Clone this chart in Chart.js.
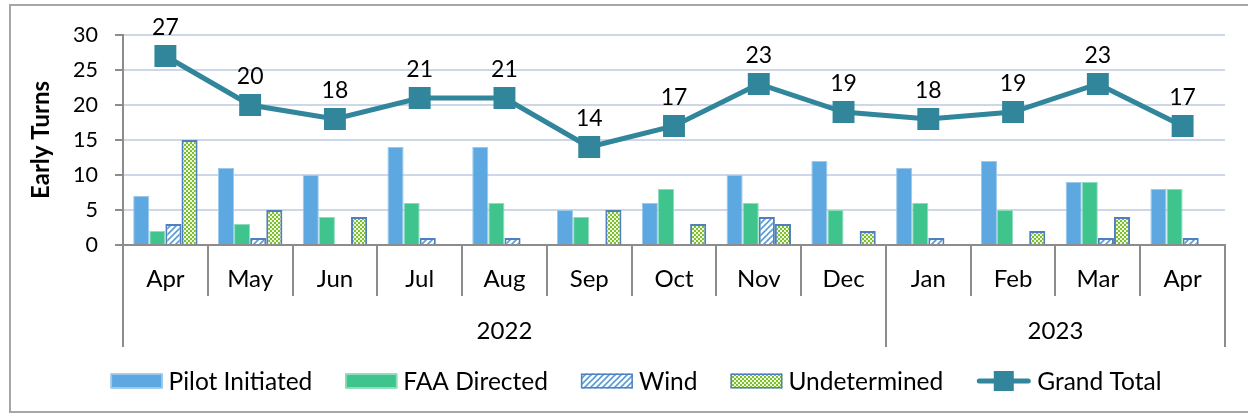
<!DOCTYPE html>
<html><head><meta charset="utf-8">
<script src="https://cdn.jsdelivr.net/npm/chart.js@4/dist/chart.umd.min.js"></script>
<style>html,body{margin:0;padding:0;background:#fff;overflow:hidden}#wrap{width:1248px;height:417px;position:relative}</style>
</head><body><div id="wrap"><canvas id="c" width="1248" height="417"></canvas></div>
<script>
const months = ['Apr','May','Jun','Jul','Aug','Sep','Oct','Nov','Dec','Jan','Feb','Mar','Apr'];
const years = ['2022','2023'];
const yearSpans = [9,4];
const pilotInitiated = [7,11,10,14,14,5,6,10,12,11,12,9,8];
const faaDirected = [2,3,4,6,6,4,8,6,5,6,5,9,8];
const wind = [3,1,0,1,1,0,0,4,0,1,0,1,1];
const undetermined = [15,5,4,0,0,5,3,3,2,0,2,4,0];
const grandTotal = [27,20,18,21,21,14,17,23,19,18,19,23,17];
const yTicks = [0,5,10,15,20,25,30];

const FONT = 'Lato, "Open Sans", sans-serif';
const FS_Y = 21.5, FS_X = 24, FS_LEG = 24.5, FS_LBL = 23;
const C_PILOT = '#5da8e0', C_FAA = '#40c48e', C_LINE = '#31869b', C_PAT_BORDER = '#4f7fbf';
const AXIS = '#8c8c8c';

function windPattern(){
  const s = 6, cv = document.createElement('canvas'); cv.width = s; cv.height = s;
  const g = cv.getContext('2d');
  g.fillStyle = '#fff'; g.fillRect(0,0,s,s);
  g.strokeStyle = '#5b9bd5'; g.lineWidth = 1.6;
  g.beginPath(); g.moveTo(0,s); g.lineTo(s,0); g.moveTo(-s/2,s/2); g.lineTo(s/2,-s/2); g.moveTo(s/2,s*1.5); g.lineTo(s*1.5,s/2); g.stroke();
  return g.createPattern(cv,'repeat');
}
function checkPattern(){
  const s = 4, cv = document.createElement('canvas'); cv.width = s; cv.height = s;
  const g = cv.getContext('2d');
  g.fillStyle = '#eef7e0'; g.fillRect(0,0,s,s);
  g.fillStyle = '#7fbf2e'; g.fillRect(0,0,2,2); g.fillRect(2,2,2,2);
  return g.createPattern(cv,'repeat');
}
const P_WIND = windPattern(), P_UND = checkPattern();

const legendItems = [
  {label:'Pilot Initiated', kind:'box', fill:C_PILOT, stroke:'#9cc8ea'},
  {label:'FAA Directed', kind:'box', fill:C_FAA, stroke:'#8fdcbd'},
  {label:'Wind', kind:'box', fill:P_WIND, stroke:C_PAT_BORDER},
  {label:'Undetermined', kind:'box', fill:P_UND, stroke:C_PAT_BORDER},
  {label:'Grand Total', kind:'line'}
];

const extras = {
  id:'extras',
  afterDatasetsDraw(chart){
    const ctx = chart.ctx, meta = chart.getDatasetMeta(4);
    ctx.save();
    ctx.font = FS_LBL + 'px ' + FONT; ctx.fillStyle = '#000'; ctx.textAlign = 'center'; ctx.textBaseline = 'middle';
    meta.data.forEach((p,i)=>{ ctx.fillText(String(grandTotal[i]), p.x, p.y - 28); });
    ctx.restore();
  },
  afterDraw(chart){
    const ctx = chart.ctx, ca = chart.chartArea;
    const n = months.length, step = (ca.right - ca.left)/n;
    ctx.save();
    ctx.strokeStyle = AXIS; ctx.lineWidth = 2;
    for(let i=0;i<=n;i++){
      const x = Math.round(ca.left + i*step);
      ctx.beginPath(); ctx.moveTo(x, ca.bottom); ctx.lineTo(x, ca.bottom + 51); ctx.stroke();
    }
    let idx = 0;
    ctx.font = FS_X + 'px ' + FONT; ctx.fillStyle = '#000'; ctx.textAlign = 'center'; ctx.textBaseline = 'middle';
    const bounds = [0];
    yearSpans.forEach(s=>{ idx += s; bounds.push(idx); });
    bounds.forEach(b=>{
      const x = Math.round(ca.left + b*step);
      ctx.beginPath(); ctx.moveTo(x, ca.bottom); ctx.lineTo(x, ca.bottom + 102); ctx.stroke();
    });
    years.forEach((y,k)=>{
      const x0 = ca.left + bounds[k]*step, x1 = ca.left + bounds[k+1]*step;
      ctx.fillText(y, (x0+x1)/2, ca.bottom + 86);
    });
    ctx.font = FS_LEG + 'px ' + FONT; ctx.textAlign = 'left';
    const boxW = 52, boxH = 15, gapT = 6, gapI = 33, lineW = 55;
    let total = 0;
    legendItems.forEach((it,i)=>{ total += (it.kind==='box'?boxW:lineW) + gapT + ctx.measureText(it.label).width + (i<legendItems.length-1?gapI:0); });
    let x = 636 - total/2; const cy = 381;
    legendItems.forEach(it=>{
      if(it.kind==='box'){
        ctx.fillStyle = it.fill; ctx.fillRect(x, cy-boxH/2, boxW, boxH);
        ctx.strokeStyle = it.stroke; ctx.lineWidth = 1.5; ctx.strokeRect(x+0.75, cy-boxH/2+0.75, boxW-1.5, boxH-1.5);
        x += boxW + gapT;
      } else {
        ctx.strokeStyle = C_LINE; ctx.lineWidth = 5; ctx.lineCap = 'round';
        ctx.beginPath(); ctx.moveTo(x+3, cy); ctx.lineTo(x+lineW-3, cy); ctx.stroke();
        ctx.fillStyle = C_LINE; ctx.fillRect(x+lineW/2-10, cy-10, 20, 20);
        x += lineW + gapT;
      }
      ctx.fillStyle = '#000'; ctx.fillText(it.label, x, cy+1);
      x += ctx.measureText(it.label).width + gapI;
    });
    ctx.strokeStyle = '#a6a6a6'; ctx.lineWidth = 2;
    ctx.strokeRect(10, 5, 1250, 407);
    ctx.restore();
  }
};

new Chart(document.getElementById('c'), {
  data: {
    labels: months,
    datasets: [
      {type:'bar', label:'Pilot Initiated', data:pilotInitiated, backgroundColor:C_PILOT, borderColor:'#9cc8ea', borderWidth:1, order:1},
      {type:'bar', label:'FAA Directed', data:faaDirected, backgroundColor:C_FAA, borderColor:'#8fdcbd', borderWidth:1, order:1},
      {type:'bar', label:'Wind', data:wind, backgroundColor:P_WIND, borderColor:C_PAT_BORDER, borderWidth:2, order:1},
      {type:'bar', label:'Undetermined', data:undetermined, backgroundColor:P_UND, borderColor:C_PAT_BORDER, borderWidth:2, order:1},
      {type:'line', label:'Grand Total', data:grandTotal, borderColor:C_LINE, backgroundColor:C_LINE, borderWidth:5, tension:0,
       pointStyle:'rect', pointRadius:15.5, pointHoverRadius:15.5, pointBackgroundColor:C_LINE, pointBorderWidth:0, order:0}
    ]
  },
  options: {
    responsive:false, animation:false, devicePixelRatio:1,
    layout:{padding:{left:0, top:35, right:23, bottom:0}},
    datasets:{bar:{categoryPercentage:0.76, barPercentage:1.0}},
    plugins:{legend:{display:false}, tooltip:{enabled:false}},
    scales:{
      x:{
        grid:{display:false, drawTicks:false},
        border:{display:true, color:AXIS, width:2},
        ticks:{font:{size:FS_X, family:FONT}, color:'#000', padding:20, maxRotation:0, autoSkip:false},
        afterFit(s){ s.height = 172; }
      },
      y:{
        min:0, max:30,
        afterBuildTicks(s){ s.ticks = yTicks.map(v=>({value:v})); },
        grid:{color:'#cdd7e8', lineWidth:2, tickLength:8, tickColor:AXIS, tickWidth:2},
        border:{display:true, color:AXIS, width:2},
        ticks:{font:{size:FS_Y, family:FONT}, color:'#000', padding:17},
        title:{display:true, text:'Early Turns', font:{size:24, family:FONT, weight:'bold'}, color:'#000', padding:{top:27, bottom:0}},
        afterFit(s){ s.width = 123; }
      }
    }
  },
  plugins:[extras]
});
</script></body></html>
